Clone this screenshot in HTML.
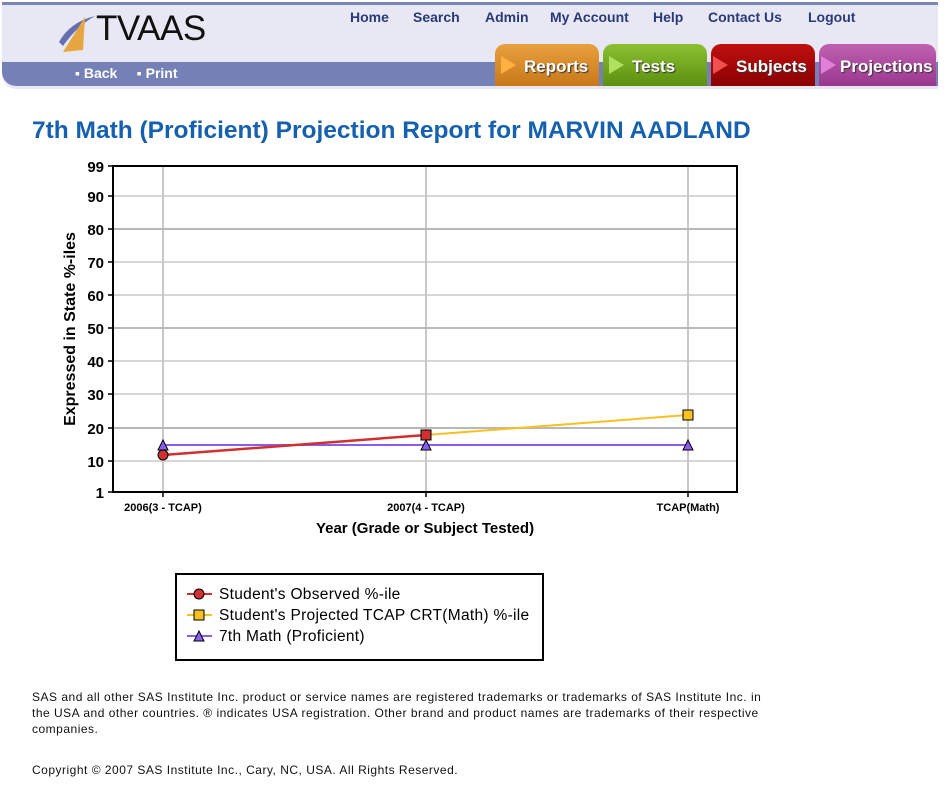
<!DOCTYPE html>
<html><head><meta charset="utf-8"><style>
body{margin:0;width:952px;height:806px;background:#fff;font-family:"Liberation Sans",sans-serif;position:relative;overflow:hidden}
.abs{position:absolute}
.nav a{position:absolute;top:9px;font-weight:bold;font-size:14px;color:#2a3a78;text-decoration:none}
.tab{position:absolute;top:44px;height:42px;border-radius:10px 10px 0 0;color:#fff;font-weight:bold;font-size:17px;line-height:46px;text-shadow:1px 1px 1px #333}
.tab i{display:inline-block;width:0;height:0;border-top:9px solid transparent;border-bottom:9px solid transparent;border-left:15px solid;margin:0 8px 0 6px;vertical-align:-2px}
p.f{position:absolute;left:32px;margin:0;font-size:12px;line-height:16px;color:#111;width:732px;letter-spacing:0.5px}
</style></head><body>
<div class="abs" style="left:2px;top:2px;width:936px;height:84px;background:#e8e8f4;border-top:3px solid #7a86b8;border-radius:0 0 0 14px"></div>
<div class="abs" style="left:2px;top:62px;width:936px;height:24px;background:#7480b6;border-radius:0 0 0 14px"></div>
<svg class="abs" style="left:55px;top:12px" width="45" height="42"><path d="M4 30 Q15 10 40 4 Q22 14 8 34Z" fill="#6670b0"/><path d="M30 5 L28 38 L8 40Z" fill="#e6a640"/></svg>
<div class="abs" style="left:96px;top:9px;font-size:35px;color:#111;letter-spacing:-0.5px">TVAAS</div>
<div class="nav"><a style="left:350px">Home</a><a style="left:413px">Search</a><a style="left:485px">Admin</a><a style="left:550px">My Account</a><a style="left:653px">Help</a><a style="left:708px">Contact Us</a><a style="left:808px">Logout</a></div>
<div class="abs" style="left:75px;top:65px;color:#fff;font-weight:bold;font-size:14px">▪ Back &nbsp;&nbsp;&nbsp;&nbsp;▪ Print</div>
<div class="tab" style="left:495px;width:104px;background:linear-gradient(#e9a040,#c87818)"><i style="color:#ffb040"></i>Reports</div>
<div class="tab" style="left:603px;width:104px;background:linear-gradient(#8cc030,#5c9010)"><i style="color:#b0e060"></i>Tests</div>
<div class="tab" style="left:711px;width:104px;background:linear-gradient(#c01010,#8a0000)"><i style="color:#f05050;margin-left:2px"></i>Subjects</div>
<div class="tab" style="left:819px;width:117px;background:linear-gradient(#c060b0,#9a3890)"><i style="color:#e080d8;margin-left:2px;margin-right:4px"></i>Projections</div>
<div class="abs" style="left:32px;top:117px;font-size:24.5px;font-weight:bold;color:#1660b0;white-space:nowrap">7th Math (Proficient) Projection Report for MARVIN AADLAND</div>
<svg class="abs" style="left:0;top:0" width="952" height="560" font-family="Liberation Sans, sans-serif">
<g stroke="#c8c8c8" stroke-width="1.5">
<line x1="113" x2="737" y1="196" y2="196"/><line x1="113" x2="737" y1="262" y2="262"/><line x1="113" x2="737" y1="295" y2="295"/><line x1="113" x2="737" y1="361" y2="361"/><line x1="113" x2="737" y1="394" y2="394"/><line x1="113" x2="737" y1="461" y2="461"/>
<line x1="163" x2="163" y1="166" y2="492" stroke-width="2"/><line x1="426" x2="426" y1="166" y2="492" stroke-width="2"/><line x1="688" x2="688" y1="166" y2="492" stroke-width="2"/>
</g>
<g stroke="#b8b8b8" stroke-width="2"><line x1="113" x2="737" y1="229" y2="229"/><line x1="113" x2="737" y1="328" y2="328"/><line x1="113" x2="737" y1="428" y2="428"/></g>
<rect x="113" y="166" width="624" height="326" fill="none" stroke="#000" stroke-width="2"/>
<g stroke="#000" stroke-width="1.5"><line x1="108" x2="113" y1="166" y2="166"/><line x1="108" x2="113" y1="196" y2="196"/><line x1="108" x2="113" y1="229" y2="229"/><line x1="108" x2="113" y1="262" y2="262"/><line x1="108" x2="113" y1="295" y2="295"/><line x1="108" x2="113" y1="328" y2="328"/><line x1="108" x2="113" y1="361" y2="361"/><line x1="108" x2="113" y1="394" y2="394"/><line x1="108" x2="113" y1="428" y2="428"/><line x1="108" x2="113" y1="461" y2="461"/><line x1="108" x2="113" y1="492" y2="492"/>
<line x1="163" x2="163" y1="492" y2="497"/><line x1="426" x2="426" y1="492" y2="497"/><line x1="688" x2="688" y1="492" y2="497"/></g>
<g font-size="15" font-weight="bold" text-anchor="end"><text x="104" y="172">99</text><text x="104" y="202">90</text><text x="104" y="235">80</text><text x="104" y="268">70</text><text x="104" y="301">60</text><text x="104" y="334">50</text><text x="104" y="367">40</text><text x="104" y="400">30</text><text x="104" y="434">20</text><text x="104" y="467">10</text><text x="104" y="498">1</text></g>
<g font-size="11" font-weight="bold" text-anchor="middle"><text x="163" y="511">2006(3 - TCAP)</text><text x="426" y="511">2007(4 - TCAP)</text><text x="688" y="511">TCAP(Math)</text></g>
<text x="425" y="533" font-size="15" font-weight="bold" text-anchor="middle">Year (Grade or Subject Tested)</text>
<text transform="translate(75,329) rotate(-90)" font-size="16" font-weight="bold" text-anchor="middle">Expressed in State %-iles</text>
<line x1="163" y1="445" x2="688" y2="445" stroke="#8a5cf0" stroke-width="2"/>
<line x1="426" y1="435" x2="688" y2="415" stroke="#f8c020" stroke-width="2"/>
<line x1="163" y1="455" x2="426" y2="435" stroke="#d03030" stroke-width="2.5"/>
<g fill="#8a5cf0" stroke="#000"><path d="M163 440 L168 450 L158 450Z"/><path d="M426 440 L431 450 L421 450Z"/><path d="M688 440 L693 450 L683 450Z"/></g>
<circle cx="163" cy="455" r="5" fill="#d03030" stroke="#000"/>
<rect x="421" y="430" width="10" height="10" fill="#d03030" stroke="#000"/>
<rect x="683" y="410" width="10" height="10" fill="#f8c020" stroke="#000"/>
</svg>
<div class="abs" style="left:175px;top:573px;width:365px;height:84px;border:2px solid #000"></div>
<svg class="abs" style="left:185px;top:583px" width="30" height="65"><line x1="2" x2="27" y1="11" y2="11" stroke="#d03030" stroke-width="2"/><circle cx="14" cy="11" r="5" fill="#d03030" stroke="#000"/><line x1="2" x2="27" y1="32" y2="32" stroke="#f8c020" stroke-width="2"/><rect x="9" y="27" width="10" height="10" fill="#f8c020" stroke="#000"/><line x1="2" x2="27" y1="53" y2="53" stroke="#8a5cf0" stroke-width="2"/><path d="M14 48 L19 58 L9 58Z" fill="#8a5cf0" stroke="#000"/></svg>
<div class="abs" style="left:219px;top:584px;font-size:15.5px;letter-spacing:0.3px;line-height:21px;color:#000">Student's Observed %-ile<br>Student's Projected TCAP CRT(Math) %-ile<br>7th Math (Proficient)</div>
<p class="f" style="top:689px">SAS and all other SAS Institute Inc. product or service names are registered trademarks or trademarks of SAS Institute Inc. in the USA and other countries. ® indicates USA registration. Other brand and product names are trademarks of their respective companies.</p>
<p class="f" style="top:762px">Copyright © 2007 SAS Institute Inc., Cary, NC, USA. All Rights Reserved.</p>
</body></html>
